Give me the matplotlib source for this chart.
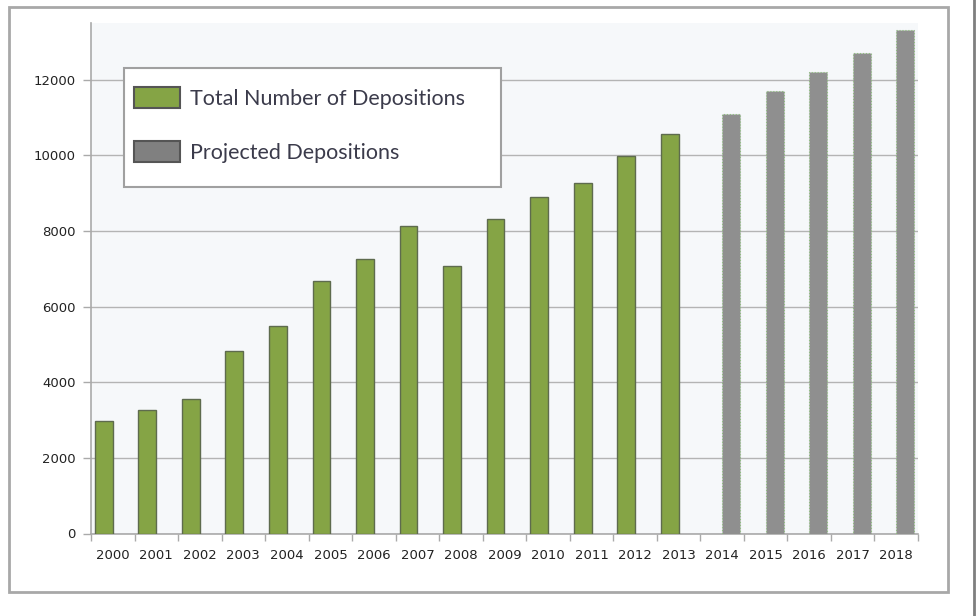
import matplotlib.pyplot as plt
import numpy as np
from matplotlib.patches import Rectangle
from matplotlib.lines import Line2D

years = list(range(2000, 2019))
total = [2980, 3270, 3555, 4816, 5500, 6670, 7272, 8127, 7068, 8305,
         8895, 9258, 9981, 10564]
projected = [11100, 11709, 12204, 12706, 13304]
yticks = [0, 2000, 4000, 6000, 8000, 10000, 12000]

fig = plt.figure(figsize=(9.77, 6.16), dpi=100)
W, H = 977, 616
ax = fig.add_axes([91 / W, 1 - 533.5 / H, (918 - 91) / W, (533.5 - 23) / H])
ax.set_facecolor('#f6f8fa')

x = np.arange(len(years))
bw = 0.41
off = 0.205
ax.bar(x[:len(total)] - off, total, width=bw, color='#85a445',
       edgecolor='#5e6b4e', linewidth=1.0, zorder=3,
       label='Total Number of Depositions')
ax.bar(x[len(total):] + off, projected, width=bw, color='#8f8f8f',
       edgecolor='#8fbf7f', linewidth=0.8, linestyle=':', zorder=3,
       label='Projected Depositions')

ax.set_xlim(-0.5, len(years) - 0.5)
ax.set_ylim(0, 13500)
ax.set_yticks(yticks)
ax.set_yticklabels([str(v) for v in yticks])
ax.grid(axis='y', color='#b4b4b4', linewidth=1.0, zorder=1)

ax.set_xticks(x)
ax.set_xticklabels([str(y) for y in years])
ax.set_xticks(np.arange(-0.5, len(years)), minor=True)
ax.tick_params(axis='x', which='major', length=0, pad=11, labelsize=9.5,
               labelcolor='#222222')
ax.tick_params(axis='x', which='minor', length=5, color='#aaaaaa', width=1)
ax.tick_params(axis='y', length=6, color='#aaaaaa', width=1, pad=5,
               labelsize=9.5, labelcolor='#222222')

for s in ['top', 'right']:
    ax.spines[s].set_visible(False)
for s in ['left', 'bottom']:
    ax.spines[s].set_color('#aaaaaa')
    ax.spines[s].set_linewidth(1.2)

# legend box drawn by hand, entries by legend()
fig.patches.append(Rectangle((124 / W, 1 - 187 / H), (501 - 124) / W, (187 - 68) / H,
                             transform=fig.transFigure, facecolor='white',
                             edgecolor='#a0a0a0', linewidth=1.5, zorder=5))
handles = [Rectangle((0, 0), 1, 1, facecolor='#85a445', edgecolor='#555555', linewidth=1.5),
           Rectangle((0, 0), 1, 1, facecolor='#808080', edgecolor='#555555', linewidth=1.5)]
leg = fig.legend(handles, ['Total Number of Depositions', 'Projected Depositions'],
                 loc='upper left', bbox_to_anchor=(134 / W, 1 - 87 / H),
                 prop={'family': 'Lato', 'size': 15.5}, labelcolor='#3b3b4b',
                 handlelength=2.15, handleheight=1.1, handletextpad=0.45,
                 labelspacing=1.5, borderpad=0, frameon=False, borderaxespad=0)
leg.set_zorder(6)

# outer frame and page edge
fig.patches.append(Rectangle((9 / W, 1 - 592 / H), (948 - 9) / W, (592 - 7) / H,
                             transform=fig.transFigure, fill=False,
                             edgecolor='#a8a8a8', linewidth=2))
fig.lines.append(Line2D([974 / W, 974 / W], [0, 1], transform=fig.transFigure,
                        color='#7f7f7f', linewidth=2))

fig.savefig('out.png', dpi=100)
